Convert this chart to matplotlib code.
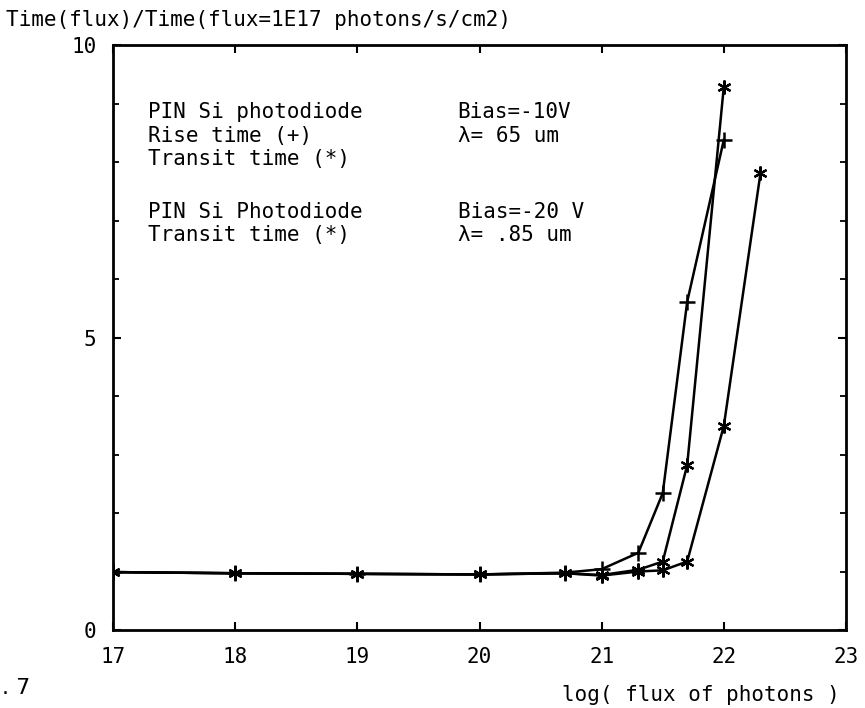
import matplotlib
matplotlib.use("Agg")
import matplotlib.pyplot as plt

# ---- data ----
flux_rise_10 = [17, 18, 19, 20, 20.7, 21, 21.3, 21.5, 21.7, 22]
rise_10 = [0.99, 0.97, 0.96, 0.95, 0.98, 1.04, 1.32, 2.34, 5.61, 8.38]

flux_transit_10 = [17, 18, 19, 20, 20.7, 21, 21.3, 21.5, 21.7, 22]
transit_10 = [0.99, 0.97, 0.96, 0.95, 0.97, 0.94, 1.03, 1.17, 2.82, 9.29]

flux_transit_20 = [17, 18, 19, 20, 20.7, 21, 21.3, 21.5, 21.7, 22, 22.3]
transit_20 = [0.99, 0.97, 0.96, 0.95, 0.97, 0.93, 1.00, 1.02, 1.17, 3.49, 7.81]

x_ticks = [17, 18, 19, 20, 21, 22, 23]
y_ticks = [0, 5, 10]
y_minor = [1, 2, 3, 4, 6, 7, 8, 9]

title_text = "Time(flux)/Time(flux=1E17 photons/s/cm2)"
xlabel_text = "log( flux of photons )"
legend_col1 = ["PIN Si photodiode", "Rise time (+)", "Transit time (*)",
               "PIN Si Photodiode", "Transit time (*)"]
legend_col2 = ["Bias=-10V", "λ= 65 um", "", "Bias=-20 V", "λ= .85 um"]
legend_rows_y = [8.85, 8.45, 8.05, 7.15, 6.75]

# ---- figure ----
W, H = 865, 708
fig = plt.figure(figsize=(W / 100, H / 100), dpi=100)
fig.patch.set_facecolor("white")
mono = "DejaVu Sans Mono"
fs = 15

ax = fig.add_axes([113 / W, (H - 630) / H, (846 - 113) / W, (630 - 45) / H])
ax.set_xlim(17, 23)
ax.set_ylim(0, 10)

asterisk = (6, 2, 0)
lw = 1.8
ax.plot(flux_transit_20, transit_20, color="black", lw=lw,
        marker=asterisk, markersize=10, markeredgewidth=1.6)
ax.plot(flux_transit_10, transit_10, color="black", lw=lw,
        marker=asterisk, markersize=10, markeredgewidth=1.6)
ax.plot(flux_rise_10, rise_10, color="black", lw=lw,
        marker="+", markersize=12, markeredgewidth=1.8)

for s in ax.spines.values():
    s.set_linewidth(2.0)
    s.set_color("black")

ax.set_xticks(x_ticks)
ax.set_xticklabels([str(v) for v in x_ticks], fontsize=fs, family=mono)
ax.set_yticks(y_ticks)
ax.set_yticklabels([str(v) for v in y_ticks], fontsize=fs, family=mono)
ax.set_yticks(y_minor, minor=True)
ax.tick_params(axis="x", which="major", direction="in", length=6, width=1.5,
               top=True, pad=12)
ax.tick_params(axis="y", which="major", direction="in", length=6, width=1.5,
               right=True, pad=12)
ax.tick_params(axis="y", which="minor", direction="in", length=4, width=1.3,
               right=True)

# annotation block inside the plot
for txt, yy in zip(legend_col1, legend_rows_y):
    ax.text(17.29, yy, txt, fontsize=fs, family=mono, va="center", ha="left")
for txt, yy in zip(legend_col2, legend_rows_y):
    if txt:
        ax.text(19.82, yy, txt, fontsize=fs, family=mono, va="center", ha="left")

# title (y-axis description) at top-left
fig.text(6 / W, 1 - 20 / H, title_text, fontsize=fs, family=mono,
         va="center", ha="left")
# x-axis label at bottom right
fig.text(840 / W, 1 - 695 / H, xlabel_text, fontsize=fs, family=mono,
         va="center", ha="right")
# figure number fragment at bottom-left
fig.text(2 / W, 1 - 688 / H, ". 7", fontsize=16, family="DejaVu Sans",
         va="center", ha="left")

fig.savefig("out.png", dpi=100, facecolor="white")
